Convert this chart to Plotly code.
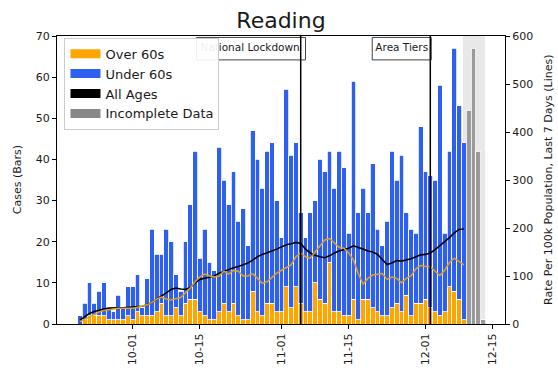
import pandas as pd
import plotly.graph_objects as go

# ---------------- data ----------------
start_date = "2020-09-20"
over_60 = [0, 1, 2, 2, 2, 2, 1, 1, 1, 1, 2,
           1, 3, 2, 2, 2, 3, 5, 2, 2, 4, 2, 5, 6, 6, 3, 2, 1, 1, 3, 5,
           3, 5, 2, 1, 1, 8, 3, 2, 5, 5, 3,
           3, 9, 4, 9, 5, 3, 3, 10, 6, 5, 15, 3, 3, 2, 2, 6, 1, 6, 6, 4,
           3, 2, 2, 4, 5, 3, 7, 2, 5, 5,
           6, 4, 3, 2, 3, 9, 8, 6, 1]
under_60 = [2, 4, 8, 3, 6, 8, 3, 2, 6, 3, 7,
            8, 9, 2, 9, 21, 14, 12, 21, 18, 8, 6, 15, 23, 36, 13, 21, 14, 12, 40, 30,
            26, 32, 23, 27, 18, 39, 37, 31, 37, 39, 27,
            18, 48, 37, 35, 22, 18, 24, 20, 34, 32, 27, 30, 39, 36, 20, 53, 26, 27, 21, 35,
            20, 17, 23, 38, 30, 38, 20, 21, 17, 43,
            31, 32, 32, 56, 19, 33, 59, 47, 43]
rate_all = [8, 15, 22, 26, 29, 31, 33, 34, 34, 34, 35,
            35, 36, 37, 40, 45, 52, 58, 65, 72, 75, 73, 72, 76, 86, 93, 95, 97, 100, 106, 110,
            114, 117, 120, 124, 127, 133, 140, 145, 148, 152, 156,
            160, 165, 167, 170, 168, 156, 148, 143, 140, 138, 142, 148, 152, 155, 158, 163, 160, 156, 152, 150,
            145, 135, 124, 127, 132, 131, 133, 136, 140, 144,
            145, 148, 155, 163, 172, 180, 190, 197, 198]
rate_over_60 = [5, 10, 15, 20, 25, 28, 30, 32, 33, 33, 33,
                33, 35, 37, 40, 45, 52, 56, 52, 50, 52, 55, 65, 75, 88, 98, 104, 100, 98, 100, 110,
                104, 112, 110, 100, 100, 105, 95, 85, 88, 98, 106,
                112, 118, 123, 140, 148, 140, 137, 150, 162, 175, 178, 168, 160, 158, 148, 133, 105, 83, 95, 102,
                104, 105, 93, 98, 95, 86, 95, 100, 115, 122,
                120, 120, 110, 101, 112, 128, 137, 130, 123]
incomplete_start = "2020-12-10"
incomplete_cases = [52, 67, 42, 1]

events = ["National Lockdown", "Area Tiers"]
event_dates = ["2020-11-05", "2020-12-02"]

tick_dates = ["2020-10-01", "2020-10-15", "2020-11-01", "2020-11-15", "2020-12-01", "2020-12-15"]
tick_labels = ["10-01", "10-15", "11-01", "11-15", "12-01", "12-15"]

dates = pd.date_range(start_date, periods=len(over_60), freq="D")
inc_dates = pd.date_range(incomplete_start, periods=len(incomplete_cases), freq="D")

ORANGE = "#ffa500"
BLUE = "#2d5ff0"
GREY = "#9a9a9a"
LINE_ORANGE = "#e0a020"
FONT = "DejaVu Sans"
TXT = "#1a1a1a"

fig = go.Figure()
bar_line = dict(color="white", width=0.8)
fig.add_trace(go.Bar(x=dates, y=over_60, marker=dict(color=ORANGE, line=bar_line),
                     showlegend=False, name="Over 60s"))
fig.add_trace(go.Bar(x=dates, y=under_60, marker=dict(color=BLUE, line=bar_line),
                     showlegend=False, name="Under 60s"))
fig.add_trace(go.Bar(x=inc_dates, y=incomplete_cases, marker=dict(color=GREY, line=bar_line),
                     showlegend=False, name="Incomplete Data"))
fig.add_trace(go.Scatter(x=dates, y=rate_all, yaxis="y2", mode="lines",
                         line=dict(color="black", width=1.6), showlegend=False))
fig.add_trace(go.Scatter(x=dates, y=rate_over_60, yaxis="y2", mode="lines",
                         line=dict(color=LINE_ORANGE, width=1.5), showlegend=False))

# event labels as text traces (kept below the legend)
day = pd.Timedelta(days=1)
text_offsets = [0.2, 0.45]
fig.add_trace(go.Scatter(
    x=[pd.Timestamp(d) - off * day for d, off in zip(event_dates, text_offsets)],
    y=[66.9, 66.9], mode="text", text=events, textposition="middle left",
    textfont=dict(family=FONT, size=10.5, color=TXT), showlegend=False, hoverinfo="skip"))

# legend entries
for name, col in [("Over 60s", ORANGE), ("Under 60s", BLUE),
                  ("All Ages", "black"), ("Incomplete Data", "#888888")]:
    fig.add_trace(go.Scatter(x=[None], y=[None], mode="lines", name=name,
                             line=dict(color=col, width=9)))

shapes = []
# incomplete data shading
shapes.append(dict(type="rect", xref="x", yref="paper",
                   x0=pd.Timestamp(incomplete_start) - 1.2 * day,
                   x1=pd.Timestamp(incomplete_start) + 3.4 * day,
                   y0=0, y1=1, fillcolor="rgba(150,150,150,0.22)", line=dict(width=0), layer="below"))
# label boxes
box_left = [21.7, 12.1]
box_right = [1.0, 0.2]
for d, l, r in zip(event_dates, box_left, box_right):
    t = pd.Timestamp(d)
    shapes.append(dict(type="rect", xref="x", yref="paper", x0=t - l * day, x1=t + r * day,
                       y0=0.917, y1=0.995, fillcolor="white",
                       line=dict(color="#444", width=1), layer="below"))
for d in event_dates:
    shapes.append(dict(type="line", xref="x", yref="paper", x0=d, x1=d, y0=0, y1=1,
                       line=dict(color="black", width=1.5), layer="above"))

annotations = [
    dict(text="Cases (Bars)", xref="paper", yref="paper", x=-0.089, y=0.5,
         textangle=-90, showarrow=False, xanchor="center", yanchor="middle",
         font=dict(size=11, color=TXT)),
    dict(text="Rate Per 100k Population, Last 7 Days (Lines)", xref="paper", yref="paper",
         x=1.096, y=0.5, textangle=-90, showarrow=False, xanchor="center", yanchor="middle",
         font=dict(size=11, color=TXT)),
]

fig.update_layout(
    width=558, height=376,
    margin=dict(l=57, r=53, t=36, b=52),
    paper_bgcolor="white", plot_bgcolor="white",
    barmode="stack", bargap=0,
    hovermode=False,
    font=dict(family=FONT, size=11, color=TXT),
    title=dict(text="Reading", x=0.5, xref="paper", y=0.947, yref="container",
               xanchor="center", yanchor="middle", font=dict(size=22, color=TXT)),
    shapes=shapes,
    annotations=annotations,
    legend=dict(x=0.0167, y=0.994, xanchor="left", yanchor="top",
                bgcolor="rgba(255,255,255,0.92)", bordercolor="#cccccc", borderwidth=1,
                font=dict(size=13, color=TXT), traceorder="normal"),
    xaxis=dict(type="date", range=["2020-09-15 05:30", "2020-12-17 13:30"],
               tickvals=tick_dates, ticktext=tick_labels, tickangle=-90,
               ticks="outside", ticklen=4, tickcolor="black",
               showline=True, linecolor="black", linewidth=1, mirror=True,
               showgrid=False, zeroline=False),
    yaxis=dict(range=[0, 70], dtick=10, ticks="outside", ticklen=4, tickcolor="black",
               showline=True, linecolor="black", linewidth=1, showgrid=False, zeroline=False),
    yaxis2=dict(range=[0, 600], dtick=100, overlaying="y", side="right",
                ticks="outside", ticklen=4, tickcolor="black",
                showline=True, linecolor="black", linewidth=1, showgrid=False, zeroline=False),
)

# remove the browser's default 8px page margin so the figure fills the window exactly
fig.write_html("out.html", config={"displayModeBar": False, "staticPlot": True},
               post_script="document.body.style.margin='0';")
